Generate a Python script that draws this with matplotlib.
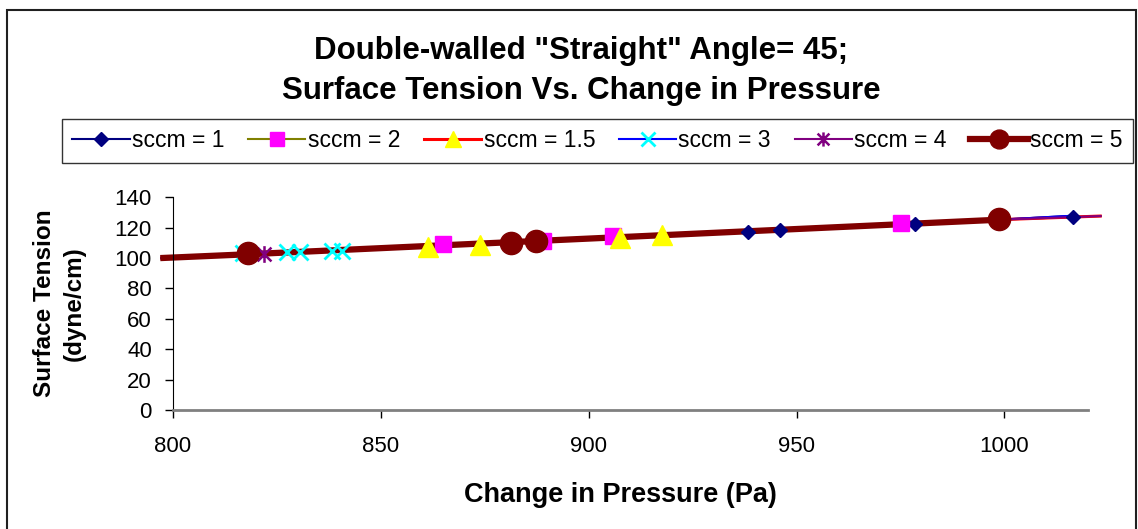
import matplotlib
matplotlib.use("Agg")
import matplotlib.pyplot as plt
from matplotlib.path import Path
from matplotlib.patches import Rectangle

plt.rcParams['font.family'] = ['Liberation Sans', 'DejaVu Sans']

# Measured points for each flow rate (sccm)
p_sccm1 = [938.4, 946.0, 978.5, 1016.5]
st_sccm1 = [117.0, 118.5, 122.2, 127.3]

p_sccm2 = [865.1, 889.1, 905.9, 975.1]
st_sccm2 = [109.0, 111.2, 114.5, 122.9]

p_sccm15 = [861.5, 873.9, 907.6, 917.6]
st_sccm15 = [107.0, 108.5, 113.5, 115.0]

p_sccm3 = [817.0, 827.4, 830.6, 838.2, 840.6]
st_sccm3 = [103.5, 104.0, 104.0, 104.9, 104.9]

p_sccm4 = [822.0]
st_sccm4 = [102.5]

p_sccm5 = [818.2, 881.3, 887.4, 998.7]
st_sccm5 = [103.3, 110.1, 111.4, 125.5]

# Fitted curves drawn under the markers
fit_p_long = [797.0, 818.0, 999.0, 1023.4]
fit_st_long = [100.0, 102.5, 125.3, 127.7]
fit_p_sccm1 = [797.0, 818.0, 999.0, 1016.5]
fit_st_sccm1 = [100.0, 102.5, 125.3, 127.9]
fit_p_sccm5 = [797.0, 818.0, 999.0]
fit_st_sccm5 = [100.0, 102.5, 125.3]

labels = ["sccm = 1", "sccm = 2", "sccm = 1.5", "sccm = 3", "sccm = 4", "sccm = 5"]
x_ticks = [800, 850, 900, 950, 1000]
y_ticks = [0, 20, 40, 60, 80, 100, 120, 140]

# Excel-style star: an X with a vertical bar
star = Path([(-1, -1), (1, 1), (-1, 1), (1, -1), (0, -1.2), (0, 1.2)],
            [Path.MOVETO, Path.LINETO, Path.MOVETO, Path.LINETO, Path.MOVETO, Path.LINETO])

fig = plt.figure(figsize=(11.38, 5.29), dpi=100)
ax = fig.add_axes([0.1518, 0.2250, 0.9557 - 0.1518, 0.6270 - 0.2250])

series = [
    (p_sccm1, st_sccm1, fit_p_sccm1, fit_st_sccm1, "#000080", "#000080", "D", 7, 1.5, 1.0),
    (p_sccm2, st_sccm2, fit_p_long, fit_st_long, "#808000", "#FF00FF", "s", 12, 1.5, 1.0),
    (p_sccm15, st_sccm15, fit_p_long, fit_st_long, "#FF0000", "#FFFF00", "^", 14, 2.2, 1.0),
    (p_sccm3, st_sccm3, fit_p_sccm1, fit_st_sccm1, "#0000FF", "#00FFFF", "x", 12, 1.5, 2.0),
    (p_sccm4, st_sccm4, fit_p_long, fit_st_long, "#800080", "#800080", star, 12, 1.5, 1.8),
    (p_sccm5, st_sccm5, fit_p_sccm5, fit_st_sccm5, "#800000", "#800000", "o", 16, 4.5, 1.0),
]

handles = []
for i, (px, sy, fx, fy, lc, mc, mk, ms, lw, mew) in enumerate(series):
    ax.plot(fx, fy, color=lc, lw=lw, zorder=2 + i * 0.01, clip_on=False,
            solid_capstyle='butt')
    ax.plot(px, sy, linestyle='none', marker=mk, markersize=ms,
            markerfacecolor=mc, markeredgecolor=mc, markeredgewidth=mew,
            zorder=3 + i * 0.01, clip_on=False)
    h, = ax.plot([], [], color=lc, lw=lw, marker=mk,
                 markersize=ms * 0.85 if mk != "D" else ms,
                 markerfacecolor=mc, markeredgecolor=mc, markeredgewidth=mew)
    handles.append(h)

ax.set_xlim(800, 1020)
ax.set_ylim(0, 140)
ax.set_xticks(x_ticks)
ax.set_yticks(y_ticks)
ax.tick_params(axis='both', direction='out', length=6, width=1, labelsize=16,
               colors='black')
ax.tick_params(axis='x', pad=13)
ax.tick_params(axis='y', pad=9)
for s in ('top', 'right'):
    ax.spines[s].set_visible(False)
ax.spines['left'].set_color('black')
ax.spines['bottom'].set_color('#808080')
ax.spines['bottom'].set_linewidth(2)

ax.set_xlabel("Change in Pressure (Pa)", fontsize=19.5, fontweight='bold')
ax.xaxis.set_label_coords(0.489, -0.40)
ax.xaxis.label.set_va('center')
ax.set_ylabel("Surface Tension\n(dyne/cm)", fontsize=17.5, fontweight='bold',
              linespacing=1.4)
ax.yaxis.set_label_coords(-0.124, 0.5)
ax.yaxis.label.set_va('center')

fig.text(0.5105, 0.903, "Double-walled \"Straight\" Angle= 45;", ha='center',
         va='center', fontsize=22.5, fontweight='bold')
fig.text(0.5105, 0.828, "Surface Tension Vs. Change in Pressure", ha='center',
         va='center', fontsize=22.5, fontweight='bold')

leg = fig.legend(handles, labels, loc='center', ncol=6,
                 bbox_to_anchor=(0.0545, 0.692, 0.941, 0.083), mode='expand',
                 fontsize=16.5, frameon=True, fancybox=False, handlelength=2.5,
                 handletextpad=0.1, columnspacing=0.5, borderaxespad=0,
                 edgecolor='black', borderpad=0.45)
leg.get_frame().set_linewidth(1)

# Outer chart frame
fig.patches.append(Rectangle((7 / 1138, -0.02), (1136 - 7) / 1138, 1 - 10 / 529 + 0.02,
                             transform=fig.transFigure, fill=False,
                             edgecolor='#202020', linewidth=1.5))

fig.savefig("out.png", dpi=100)
